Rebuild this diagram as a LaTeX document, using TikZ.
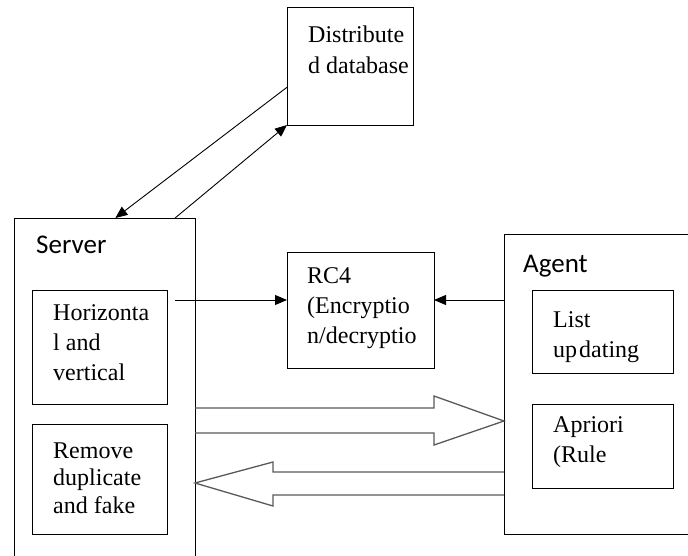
\documentclass[tikz,border=0pt]{standalone}
\usepackage{fontspec}
\setmainfont{Liberation Serif}
\newfontfamily\calfont{Carlito}
\usetikzlibrary{arrows.meta,calc}
\begin{document}
\begin{tikzpicture}[x=1pt,y=-1pt,
 box/.style={draw,line width=1pt,rectangle,inner sep=0pt,outer sep=0pt,anchor=north west},
 txt/.style={inner sep=0pt,anchor=base west,align=left,font=\fontsize{24}{30}\selectfont},
 lbl/.style={inner sep=0pt,anchor=base west,font=\calfont\fontsize{27}{30}\selectfont},
 arr/.style={line width=0.9pt,-{Triangle[length=12pt,width=10pt]}},
 fat/.style={draw=black!65,line width=1.3pt,line join=miter}]
\useasboundingbox (0,0) rectangle (688,555);
% boxes
\node[box,minimum width=126pt,minimum height=118pt] (db) at (287,7) {};
\node[box,minimum width=181pt,minimum height=345pt] (server) at (14,218) {};
\node[box,minimum width=135pt,minimum height=114pt] (horiz) at (32,290) {};
\node[box,minimum width=135pt,minimum height=110pt] (remove) at (32,424) {};
\node[box,minimum width=147pt,minimum height=116pt] (rc4) at (287,252) {};
\node[box,minimum width=190pt,minimum height=300pt] (agent) at (504,234) {};
\node[box,minimum width=141pt,minimum height=83pt] (list) at (532,290) {};
\node[box,minimum width=141pt,minimum height=84pt] (apriori) at (532,404) {};
% texts (anchor = baseline of last line)
\node[txt,font=\fontsize{24}{31}\selectfont] (tdb) at (308,73) {Distribute\\d database};
\node[lbl] (tserver) at (36,253) {Server};
\node[lbl] (tagent) at (523,272) {Agent};
\node[txt] (trc4) at (307,343) {RC4\\(Encryptio\\n/decryptio};
\node[txt] (thv) at (53,380) {Horizonta\\l and\\vertical};
\node[txt,font=\fontsize{24}{27.5}\selectfont] (trm) at (53,513) {Remove\\duplicate\\and fake};
\node[txt] (tlist) at (553,357) {List\\up\kern2pt dating};
\node[txt] (tap) at (553,462) {Apriori\\(Rule};
% connectors
\draw[arr] ($(db.north west)!0.68!(db.south west)$) -- ($(server.north west)!0.56!(server.north east)$);
\draw[arr] ($(server.north west)!0.89!(server.north east)$) -- (db.south west);
\coordinate (hs) at ($(horiz.north east)+(8,10)$);
\draw[arr] (hs) -- (hs -| rc4.west);
\coordinate (as) at (agent.west |- hs);
\draw[arr] (as) -- (as -| rc4.east);
% hollow arrows
\draw[fat] (server.east |- 0,408) -- (434,408) -- (434,396) -- (agent.west |- 0,421) -- (434,445) -- (434,433) -- (server.east |- 0,433);
\draw[fat] (agent.west |- 0,472) -- (273,472) -- (273,462) -- (server.east |- 0,483) -- (273,506) -- (273,495) -- (agent.west |- 0,495);
\end{tikzpicture}
\end{document}
